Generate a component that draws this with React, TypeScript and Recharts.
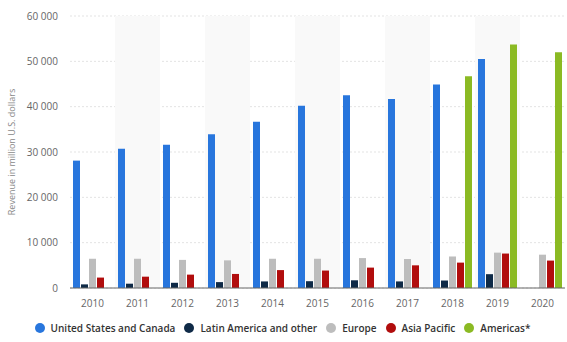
import { Bar, BarChart, CartesianGrid, Legend, ReferenceArea, XAxis, YAxis } from 'recharts';

const YEARS = ['2010', '2011', '2012', '2013', '2014', '2015', '2016', '2017', '2018', '2019', '2020'];
const US_CANADA = [28100, 30700, 31600, 33900, 36700, 40200, 42500, 41700, 44900, 50500, null];
const LATIN_AMERICA = [800, 950, 1150, 1300, 1450, 1500, 1700, 1450, 1650, 3050, null];
const EUROPE = [6450, 6450, 6200, 6100, 6450, 6450, 6600, 6400, 6950, 7800, 7350];
const ASIA_PACIFIC = [2300, 2500, 2950, 3100, 3950, 3850, 4500, 5000, 5600, 7600, 6050];
const AMERICAS = [null, null, null, null, null, null, null, null, 46700, 53700, 52000];
const Y_TICKS = [0, 10000, 20000, 30000, 40000, 50000, 60000];

const BLUE = '#2876dd';
const NAVY = '#0f2a47';
const GRAY = '#bdbdbd';
const RED = '#b10d0d';
const GREEN = '#8bba23';

const data = YEARS.map((year, i) => ({
  year,
  us: US_CANADA[i],
  latin: LATIN_AMERICA[i],
  europe: EUROPE[i],
  asia: ASIA_PACIFIC[i],
  americas: AMERICAS[i],
}));

// shaded bands behind every other year
const SHADED = YEARS.filter((_, i) => i % 2 === 1);

const fmt = (v: number) => String(v).replace(/\B(?=(\d{3})+(?!\d))/g, ' ');

const LEGEND = [
  { name: 'United States and Canada', color: BLUE },
  { name: 'Latin America and other', color: NAVY },
  { name: 'Europe', color: GRAY },
  { name: 'Asia Pacific', color: RED },
  { name: 'Americas*', color: GREEN },
];

function LegendContent() {
  return (
    <div
      style={{
        display: 'flex',
        justifyContent: 'center',
        gap: 9,
        paddingTop: 3,
        fontSize: 10,
        fontWeight: 600,
        color: '#333',
      }}
    >
      {LEGEND.map((it) => (
        <span key={it.name} style={{ display: 'flex', alignItems: 'center' }}>
          <span
            style={{ width: 10, height: 10, borderRadius: 5, background: it.color, marginRight: 6, display: 'inline-block' }}
          />
          {it.name}
        </span>
      ))}
    </div>
  );
}

export default function App() {
  return (
    <div style={{ position: 'absolute', left: 0, top: 0, fontFamily: '"Open Sans", sans-serif', background: '#fff' }}>
      <BarChart
        width={567}
        height={342}
        data={data}
        margin={{ top: 16, right: 2, bottom: 0, left: 0 }}
        barSize={7}
        barGap={1}
      >
        {SHADED.map((y) => (
          <ReferenceArea key={y} x1={y} x2={y} y1={0} y2={60000} fill="#f9f9f9" fillOpacity={1} stroke="none" ifOverflow="hidden" />
        ))}
        <CartesianGrid vertical={false} stroke="#e3e3e3" strokeDasharray="2 2" />
        <XAxis
          dataKey="year"
          tickLine={false}
          axisLine={{ stroke: '#666' }}
          tick={{ fontSize: 10, fill: '#666' }}
          tickMargin={6}
          height={30}
        />
        <YAxis
          width={70}
          domain={[0, 60000]}
          ticks={Y_TICKS}
          tickFormatter={fmt}
          axisLine={false}
          tickLine={false}
          tickMargin={6}
          tick={{ fontSize: 10, fill: '#666' }}
          label={{
            value: 'Revenue in million U.S. dollars',
            angle: -90,
            position: 'insideLeft',
            offset: 12,
            style: { fontSize: 9, fill: '#888', textAnchor: 'middle' },
          }}
        />
        <Legend content={<LegendContent />} wrapperStyle={{ height: 24 }} />
        <Bar dataKey="us" name="United States and Canada" fill={BLUE} isAnimationActive={false} />
        <Bar dataKey="latin" name="Latin America and other" fill={NAVY} isAnimationActive={false} />
        <Bar dataKey="europe" name="Europe" fill={GRAY} isAnimationActive={false} />
        <Bar dataKey="asia" name="Asia Pacific" fill={RED} isAnimationActive={false} />
        <Bar dataKey="americas" name="Americas*" fill={GREEN} isAnimationActive={false} />
      </BarChart>
    </div>
  );
}
